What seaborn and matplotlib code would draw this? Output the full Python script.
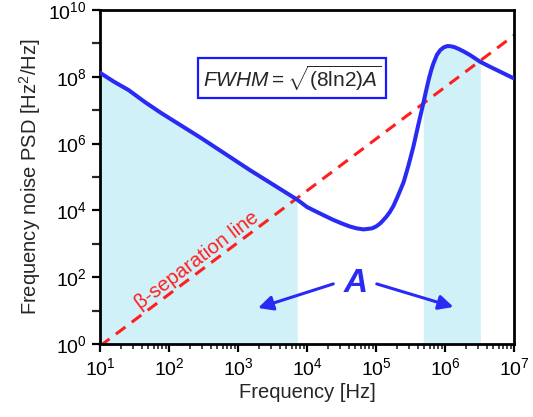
"""
Frequency noise PSD with the beta-separation line and the shaded area A.
"""

import math

import matplotlib

matplotlib.use("Agg")
import matplotlib.pyplot as plt
import seaborn as sns
from matplotlib.ticker import FixedLocator, FuncFormatter, NullFormatter

# curve: frequency [Hz] and PSD [Hz^2/Hz]
freq = [10, 16, 26, 45, 78, 295, 1.48e3, 7.2e3, 1e4, 1.45e4, 1.86e4, 2.4e4,
        3.16e4, 4.17e4, 5.25e4, 6.6e4, 8.7e4, 1e5, 1.15e5, 1.26e5, 1.41e5,
        1.58e5, 1.78e5, 2.0e5, 2.24e5, 2.51e5, 2.95e5, 3.47e5, 4.07e5,
        4.83e5, 5.25e5, 5.75e5, 6.3e5, 6.76e5, 7.59e5, 8.5e5, 9.55e5,
        1.07e6, 1.17e6, 1.35e6, 1.58e6, 1.9e6, 2.29e6, 3.24e6, 4.47e6, 1e7]
psd = [1.32e8, 7.1e7, 4.0e7, 1.74e7, 8.1e6, 1.45e6, 1.62e5, 2.1e4, 1.26e4,
       8.6e3, 6.7e3, 5.2e3, 4.1e3, 3.3e3, 2.9e3, 2.7e3, 2.9e3, 3.3e3, 4.1e3,
       5.0e3, 6.5e3, 8.9e3, 1.35e4, 2.3e4, 4.0e4, 7.1e4, 2.24e5, 8.1e5,
       3.5e6, 1.6e7, 3.5e7, 7.9e7, 1.6e8, 2.5e8, 4.5e8, 6.3e8, 7.6e8, 8.3e8,
       8.3e8, 7.8e8, 6.8e8, 5.6e8, 4.5e8, 2.8e8, 2.0e8, 8.9e7]

# beta-separation line end points
beta_freq = [10, 1e7]
beta_psd = [0.87, 1.75e9]

# shaded bands (frequency limits)
band_low = (10, 7.2e3)
band_high = (4.83e5, 3.24e6)

x_ticks = [1e1, 1e2, 1e3, 1e4, 1e5, 1e6, 1e7]
y_major = [1e0, 1e2, 1e4, 1e6, 1e8, 1e10]
y_minor = [1e1, 1e3, 1e5, 1e7, 1e9]

BLUE = "#2a2af5"
RED = "#ff1f1f"
SHADE = "#d0f1f8"

sns.set_style("ticks")
plt.rcParams["font.family"] = ["Liberation Sans", "DejaVu Sans"]
plt.rcParams["mathtext.fontset"] = "custom"
plt.rcParams["mathtext.rm"] = "Liberation Sans"
plt.rcParams["mathtext.it"] = "Liberation Sans:italic"
plt.rcParams["mathtext.bf"] = "Liberation Sans:bold"

fig = plt.figure(figsize=(5.33, 4.17), dpi=100)
ax = fig.add_axes([0.1876, 0.175, 0.777, 0.801])
ax.set_xscale("log")
ax.set_yscale("log")

for lo, hi in (band_low, band_high):
    mask = [lo <= f <= hi for f in freq]
    ax.fill_between(freq, psd, 1e-1, where=mask, color=SHADE, lw=0, zorder=1)

sns.lineplot(x=beta_freq, y=beta_psd, color=RED, lw=2.2, ax=ax, zorder=2)
ax.lines[-1].set_dashes((3.9, 2.6))
sns.lineplot(x=freq, y=psd, sort=False, color=BLUE, lw=2.9, ax=ax, zorder=3)

ax.set_xlim(1e1, 1e7)
ax.set_ylim(1e0, 1e10)

sci = FuncFormatter(lambda v, _: r"$10^{%d}$" % round(math.log10(v)))
ax.xaxis.set_major_locator(FixedLocator(x_ticks))
ax.xaxis.set_major_formatter(sci)
ax.xaxis.set_minor_formatter(NullFormatter())
ax.yaxis.set_major_locator(FixedLocator(y_major))
ax.yaxis.set_major_formatter(sci)
ax.yaxis.set_minor_locator(FixedLocator(y_minor))
ax.yaxis.set_minor_formatter(NullFormatter())

ax.tick_params(which="major", direction="out", length=6, width=1.6,
               labelsize=14, colors="black")
ax.tick_params(which="minor", direction="out", length=3.5, width=1.2)
ax.tick_params(axis="y", which="minor", length=6, width=1.6)
for sp in ax.spines.values():
    sp.set_linewidth(2)
    sp.set_color("black")

ax.set_xlabel("Frequency [Hz]", fontsize=14.5, labelpad=3)
ax.set_ylabel("Frequency noise PSD [Hz$^2$/Hz]", fontsize=14.5, labelpad=4)

ax.text(10 ** 3.78, 10 ** 7.96, r"$\mathit{FWHM} = \sqrt{(8\mathrm{ln}2)\mathit{A}}$",
        ha="center", va="center", fontsize=15, zorder=5,
        bbox=dict(boxstyle="square,pad=0.25", fc="white", ec="#1a1aff", lw=1.6))

ax.text(10 ** 2.40, 10 ** 2.50, "β-separation line", color=RED, fontsize=14.5,
        rotation=37, ha="center", va="center", rotation_mode="anchor", zorder=4)

ax.text(10 ** 4.70, 10 ** 1.81, "A", color=BLUE, fontsize=24, style="italic",
        fontweight="bold", ha="center", va="center", zorder=4)
arrow = dict(arrowstyle="-|>", color=BLUE, lw=2.2, mutation_scale=22,
             shrinkA=0, shrinkB=0)
ax.annotate("", xy=(10 ** 3.29, 10 ** 1.08), xytext=(10 ** 4.38, 10 ** 1.80),
            arrowprops=arrow, zorder=4)
ax.annotate("", xy=(10 ** 6.12, 10 ** 1.11), xytext=(10 ** 5.01, 10 ** 1.80),
            arrowprops=arrow, zorder=4)

fig.savefig("out.png", dpi=100)
